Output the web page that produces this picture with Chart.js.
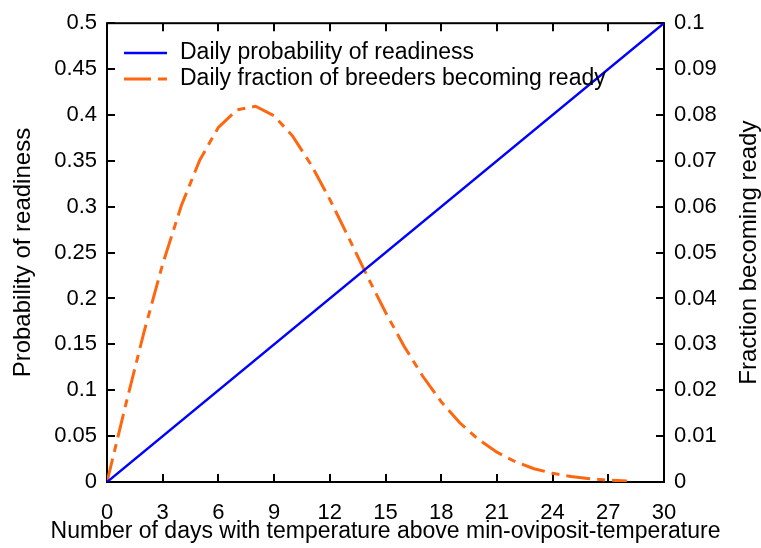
<!DOCTYPE html>
<html>
<head>
<meta charset="utf-8">
<script src="https://cdn.jsdelivr.net/npm/chart.js@4/dist/chart.umd.min.js"></script>
<style>
  html, body { margin: 0; padding: 0; background: #ffffff; }
  #wrap { width: 761px; height: 548px; position: relative; }
</style>
</head>
<body>
<div id="wrap"><canvas id="c" width="761" height="548"></canvas></div>
<script>
// ---- data ----
const probDays = [0, 30];
const probValues = [0, 0.5];

const fracDays = [0, 1, 2, 3, 4, 5, 6, 7, 8, 9, 10, 11, 12, 13, 14, 15, 16, 17, 18, 19, 20, 21, 22, 23, 24, 25, 26, 27, 28];
const fracValues = [0, 0.0167, 0.0328, 0.0475, 0.0602, 0.0702, 0.0773, 0.0811, 0.0819, 0.0798, 0.0754,
  0.0691, 0.0616, 0.0534, 0.0450, 0.0370, 0.0296, 0.0231, 0.0175, 0.0129, 0.0093,
  0.0065, 0.0044, 0.0029, 0.0019, 0.0012, 0.0007, 0.0004, 0.0002];

const xTicks = [0, 3, 6, 9, 12, 15, 18, 21, 24, 27, 30];
const xTickLabels = ['0', '3', '6', '9', '12', '15', '18', '21', '24', '27', '30'];
const yLeftTicks = [0, 0.05, 0.1, 0.15, 0.2, 0.25, 0.3, 0.35, 0.4, 0.45, 0.5];
const yLeftLabels = ['0', '0.05', '0.1', '0.15', '0.2', '0.25', '0.3', '0.35', '0.4', '0.45', '0.5'];
const yRightTicks = [0, 0.01, 0.02, 0.03, 0.04, 0.05, 0.06, 0.07, 0.08, 0.09, 0.1];
const yRightLabels = ['0', '0.01', '0.02', '0.03', '0.04', '0.05', '0.06', '0.07', '0.08', '0.09', '0.1'];

const seriesNames = ['Daily probability of readiness', 'Daily fraction of breeders becoming ready'];
const xTitle = 'Number of days with temperature above min-oviposit-temperature';
const yLeftTitle = 'Probability of readiness';
const yRightTitle = 'Fraction becoming ready';

// ---- styles ----
const FONT = '"Liberation Sans", Arial, Helvetica, sans-serif';
const TICK_FS = 22;
const TITLE_FS = 23;
const YTITLE_FS = 24;
const LEGEND_FS = 23;
const BLUE = '#0000ff';
const ORANGE = '#ff6610';
const DASH = [24, 7, 8, 7];

const boxPlugin = {
  id: 'box',
  beforeDatasetsDraw(chart) {
    const ctx = chart.ctx;
    const a = chart.chartArea;
    const sx = chart.scales.x, sy = chart.scales.y, sy2 = chart.scales.y2;
    const TL = 8;
    ctx.save();
    ctx.strokeStyle = '#000';
    ctx.lineWidth = 2;
    ctx.beginPath();
    xTicks.forEach(v => {
      const px = Math.round(sx.getPixelForValue(v));
      ctx.moveTo(px, a.bottom); ctx.lineTo(px, a.bottom - TL);
      ctx.moveTo(px, a.top); ctx.lineTo(px, a.top + TL);
    });
    yLeftTicks.forEach(v => {
      const py = Math.round(sy.getPixelForValue(v));
      ctx.moveTo(a.left, py); ctx.lineTo(a.left + TL, py);
    });
    yRightTicks.forEach(v => {
      const py = Math.round(sy2.getPixelForValue(v));
      ctx.moveTo(a.right, py); ctx.lineTo(a.right - TL, py);
    });
    ctx.stroke();
    ctx.strokeRect(a.left, a.top, a.right - a.left, a.bottom - a.top);
    ctx.restore();
  },
  afterDraw(chart) {
    const ctx = chart.ctx;
    const a = chart.chartArea;
    ctx.save();
    // legend
    const lx0 = 124, lx1 = 167, tx = 180;
    const rows = [53, 79];
    ctx.lineWidth = 2.5;
    ctx.strokeStyle = BLUE;
    ctx.setLineDash([]);
    ctx.beginPath(); ctx.moveTo(lx0, rows[0]); ctx.lineTo(lx1, rows[0]); ctx.stroke();
    ctx.strokeStyle = ORANGE;
    ctx.lineWidth = 3;
    ctx.setLineDash([27, 7, 9, 7]);
    ctx.beginPath(); ctx.moveTo(lx0, rows[1]); ctx.lineTo(lx1, rows[1]); ctx.stroke();
    ctx.setLineDash([]);
    ctx.fillStyle = '#000';
    ctx.font = LEGEND_FS + 'px ' + FONT;
    ctx.textAlign = 'left';
    ctx.textBaseline = 'middle';
    ctx.fillText(seriesNames[0], tx, rows[0]);
    ctx.fillText(seriesNames[1], tx, rows[1]);
    // x axis title
    ctx.font = TITLE_FS + 'px ' + FONT;
    ctx.textAlign = 'center';
    ctx.textBaseline = 'alphabetic';
    ctx.fillText(xTitle, (a.left + a.right) / 2, 538);
    // right axis title, reading bottom to top
    ctx.font = YTITLE_FS + 'px ' + FONT;
    ctx.textBaseline = 'middle';
    ctx.translate(749, (a.top + a.bottom) / 2);
    ctx.rotate(-Math.PI / 2);
    ctx.fillText(yRightTitle, 0, 0);
    ctx.restore();
  }
};

const tickFont = { family: FONT, size: TICK_FS };
const yTitleFont = { family: FONT, size: YTITLE_FS };

new Chart(document.getElementById('c'), {
  type: 'line',
  data: {
    datasets: [
      {
        label: seriesNames[0],
        data: probDays.map((d, i) => ({ x: d, y: probValues[i] })),
        yAxisID: 'y',
        borderColor: BLUE,
        borderWidth: 2.5,
        pointRadius: 0,
        tension: 0,
        fill: false
      },
      {
        label: seriesNames[1],
        data: fracDays.map((d, i) => ({ x: d, y: fracValues[i] })),
        yAxisID: 'y2',
        borderColor: ORANGE,
        borderWidth: 3,
        borderDash: DASH,
        pointRadius: 0,
        tension: 0,
        fill: false
      }
    ]
  },
  options: {
    responsive: false,
    animation: false,
    layout: { padding: { top: 22, left: 0, right: 0, bottom: 0 } },
    plugins: { legend: { display: false }, tooltip: { enabled: false } },
    scales: {
      x: {
        type: 'linear', min: 0, max: 30,
        afterBuildTicks: s => { s.ticks = xTicks.map(v => ({ value: v })); },
        afterFit: s => { s.height = 66; },
        grid: { display: false, drawTicks: false },
        border: { display: false },
        ticks: { font: tickFont, color: '#000', padding: 18, maxRotation: 0,
          callback: (v, i) => xTickLabels[i] },
        title: { display: false }
      },
      y: {
        type: 'linear', position: 'left', min: 0, max: 0.5,
        afterBuildTicks: s => { s.ticks = yLeftTicks.map(v => ({ value: v })); },
        afterFit: s => { s.width = 107; },
        grid: { display: false, drawTicks: false },
        border: { display: false },
        ticks: { font: tickFont, color: '#000', padding: 10,
          callback: (v, i) => yLeftLabels[i] },
        title: { display: true, text: yLeftTitle, font: yTitleFont, color: '#000', padding: { top: 9, bottom: 0 } }
      },
      y2: {
        type: 'linear', position: 'right', min: 0, max: 0.1,
        afterBuildTicks: s => { s.ticks = yRightTicks.map(v => ({ value: v })); },
        afterFit: s => { s.width = 97; },
        grid: { display: false, drawTicks: false },
        border: { display: false },
        ticks: { font: tickFont, color: '#000', padding: 10,
          callback: (v, i) => yRightLabels[i] }
      }
    }
  },
  plugins: [boxPlugin]
});
</script>
</body>
</html>
